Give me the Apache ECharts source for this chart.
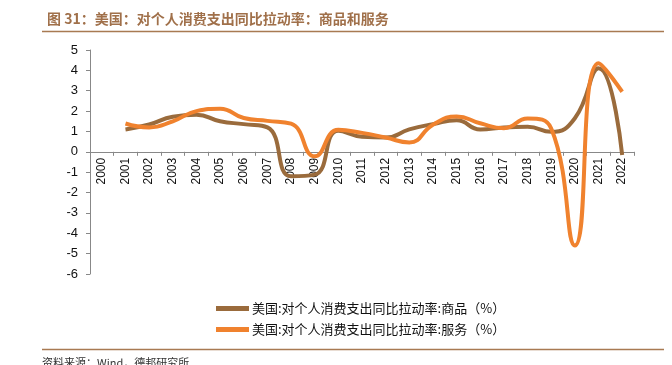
<!DOCTYPE html>
<html>
<head>
<meta charset="utf-8">
<script src="https://cdn.jsdelivr.net/npm/echarts@6/dist/echarts.min.js"></script>
<style>
  html, body { margin: 0; padding: 0; background: #fff; }
  #chart { width: 672px; height: 365px; }
</style>
</head>
<body>
<div id="chart"></div>
<script>
const years = ["2000", "2001", "2002", "2003", "2004", "2005", "2006", "2007", "2008", "2009", "2010",
  "2011", "2012", "2013", "2014", "2015", "2016", "2017", "2018", "2019", "2020", "2021", "2022"];

// 商品
const goods = ["-", 1.1, 1.34, 1.72, 1.82, 1.5, 1.36, 1.2, -1.2, -1.12, 1.03,
  0.74, 0.7, 1.1, 1.36, 1.55, 1.1, 1.2, 1.23, 0.98, 1.65, 4.1, -0.16];

// 服务
const services = ["-", 1.39, 1.2, 1.5, 2.0, 2.12, 1.66, 1.52, 1.38, -0.22, 1.08,
  0.93, 0.7, 0.46, 1.33, 1.74, 1.4, 1.16, 1.64, 1.15, -4.6, 4.35, 2.95];

const goodsName = "美国:对个人消费支出同比拉动率:商品（%）";
const servicesName = "美国:对个人消费支出同比拉动率:服务（%）";

const brown = "#9A6B3C";
const orange = "#F0822E";

const chart = echarts.init(document.getElementById("chart"));

// grid: top 50, height 224, y from -6 to 5 -> zero line sits 122.2px above the bottom
const gridTop = 50;
const gridBottom = 91;
const gridH = 365 - gridTop - gridBottom;
const zeroOffset = -gridH * 6 / 11;

const option = {
  animation: false,
  title: {
    text: "图 31：美国：对个人消费支出同比拉动率：商品和服务",
    left: 42,
    top: 7,
    textStyle: {
      fontFamily: "Noto Sans CJK SC",
      fontSize: 14,
      fontWeight: "bold",
      color: "#A0704A"
    }
  },
  graphic: {
    elements: [
      { type: "line", shape: { x1: 42, y1: 31.5, x2: 664, y2: 31.5 }, style: { stroke: "#A87A52", lineWidth: 1.5 } },
      { type: "line", shape: { x1: 42, y1: 349.5, x2: 664, y2: 349.5 }, style: { stroke: "#A87A52", lineWidth: 1.5 } },
      {
        type: "text", left: 42, top: 357,
        style: { text: "资料来源：Wind，德邦研究所", fontFamily: "Noto Sans CJK SC", fontSize: 11, fill: "#333" }
      }
    ]
  },
  legend: {
    orient: "vertical",
    left: 211,
    top: 297,
    itemGap: 8,
    itemWidth: 33,
    itemHeight: 5,
    icon: "rect",
    textStyle: { fontFamily: "Noto Sans CJK SC", fontSize: 13, color: "#111", padding: [0, 0, 0, -2] },
    data: [goodsName, servicesName]
  },
  grid: { left: 90, right: 38, top: gridTop, bottom: gridBottom },
  xAxis: {
    type: "category",
    data: years,
    boundaryGap: true,
    offset: zeroOffset,
    axisLine: { onZero: false, lineStyle: { color: "#888", width: 1 } },
    axisTick: { show: true, length: 4, inside: false, lineStyle: { color: "#888" } },
    axisLabel: {
      rotate: 90,
      interval: 0,
      margin: 6,
      fontFamily: "Liberation Sans",
      fontSize: 12,
      color: "#111"
    }
  },
  yAxis: {
    type: "value",
    min: -6,
    max: 5,
    interval: 1,
    splitLine: { show: false },
    axisLine: { show: true, lineStyle: { color: "#888" } },
    axisTick: { show: true, length: 4, lineStyle: { color: "#888" } },
    axisLabel: { fontFamily: "Liberation Sans", fontSize: 13, color: "#111", margin: 12 }
  },
  series: [
    {
      name: goodsName,
      type: "line",
      data: goods,
      smooth: 0.5,
      showSymbol: false,
      itemStyle: { color: brown },
      lineStyle: { color: brown, width: 4 }
    },
    {
      name: servicesName,
      type: "line",
      data: services,
      smooth: 0.5,
      showSymbol: false,
      itemStyle: { color: orange },
      lineStyle: { color: orange, width: 4 }
    }
  ]
};

chart.setOption(option);
</script>
</body>
</html>
